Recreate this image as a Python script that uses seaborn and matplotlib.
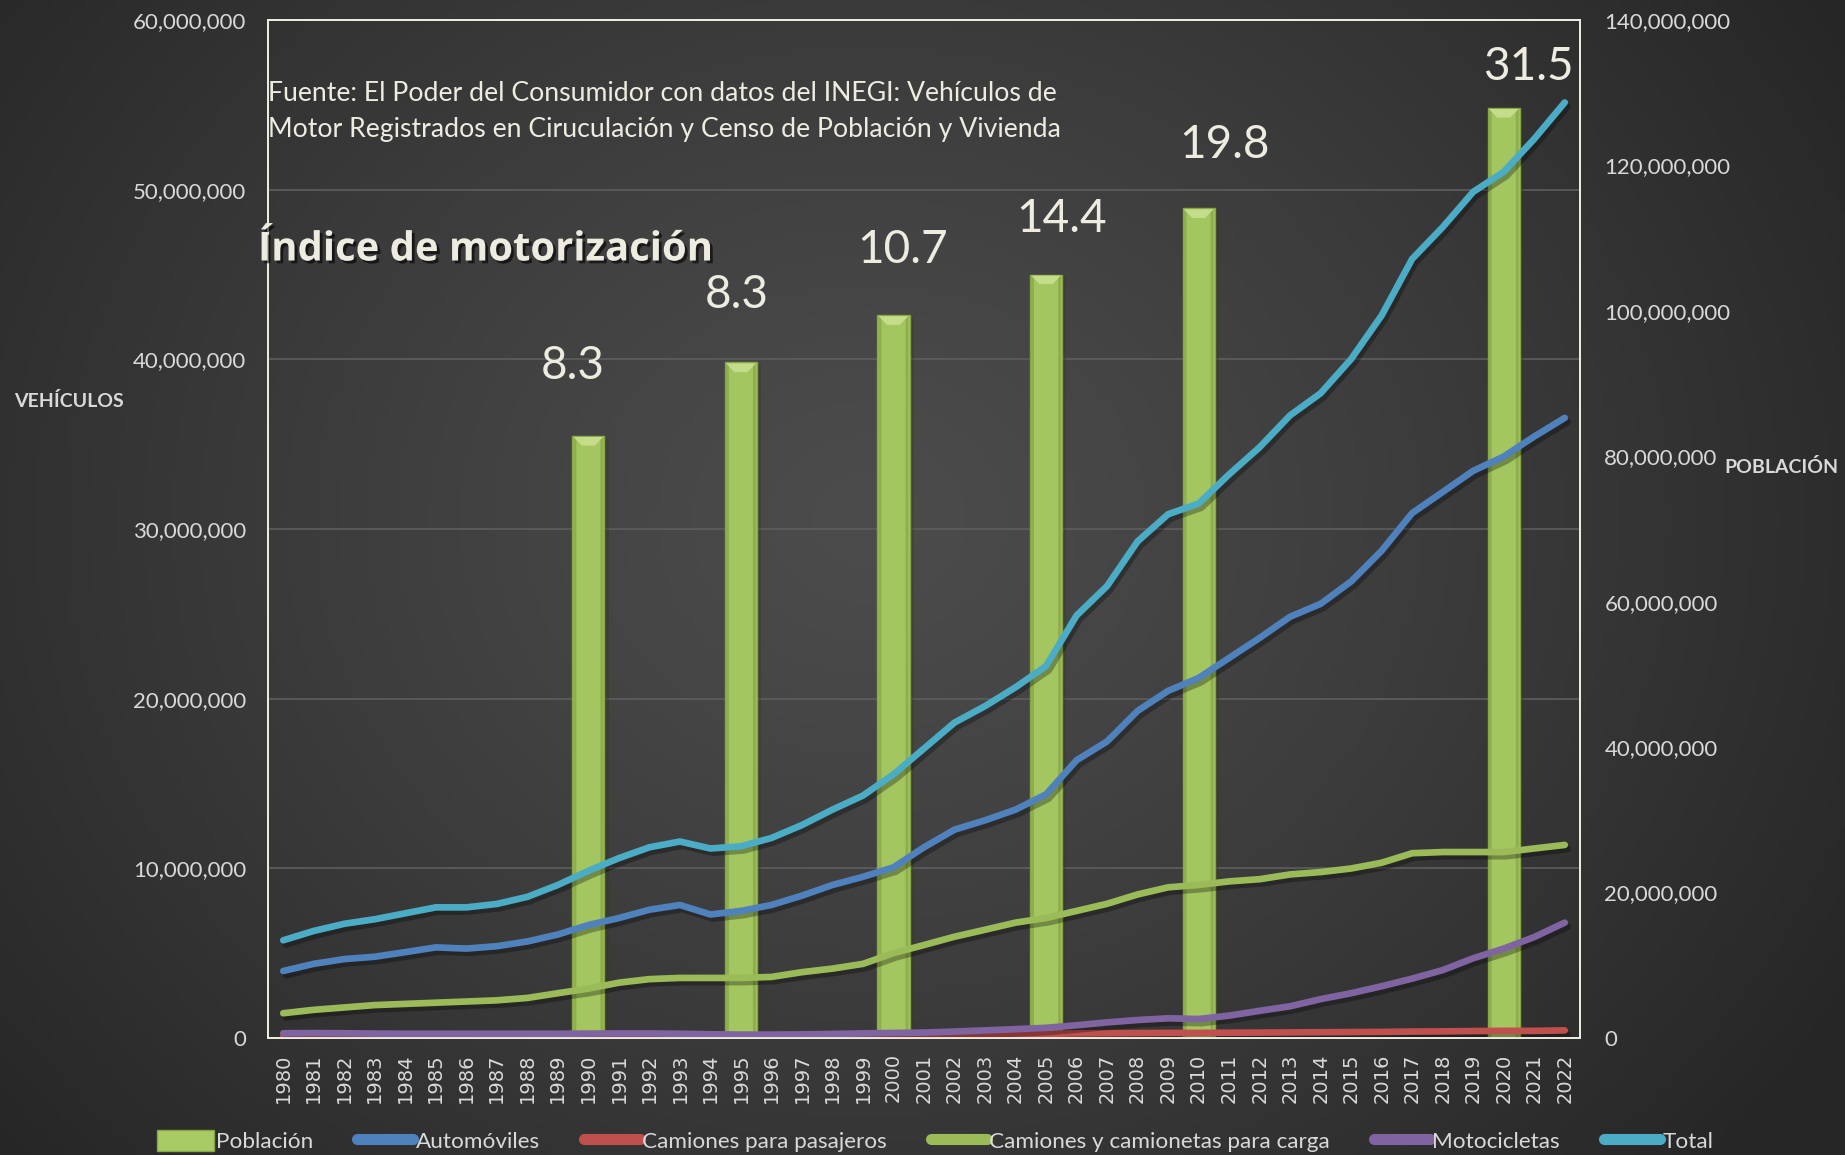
import numpy as np
import pandas as pd
import seaborn as sns
import matplotlib
matplotlib.use("Agg")
import matplotlib.pyplot as plt
import matplotlib.patheffects as pe
from matplotlib.lines import Line2D
from matplotlib.patches import Patch, Polygon
from matplotlib.ticker import FuncFormatter, MultipleLocator

# ---------------- data ----------------
years = [str(y) for y in range(1980, 2023)]

automoviles = [3.95e6, 4.37e6, 4.65e6, 4.79e6, 5.06e6, 5.34e6, 5.27e6, 5.41e6, 5.69e6, 6.10e6,
               6.66e6, 7.07e6, 7.56e6, 7.84e6, 7.28e6, 7.49e6, 7.84e6, 8.39e6, 9.02e6, 9.50e6,
               10.06e6, 11.24e6, 12.28e6, 12.83e6, 13.46e6, 14.36e6, 16.37e6, 17.48e6, 19.28e6, 20.46e6,
               21.22e6, 22.40e6, 23.58e6, 24.83e6, 25.59e6, 26.91e6, 28.72e6, 30.94e6, 32.18e6, 33.43e6,
               34.27e6, 35.45e6, 36.55e6]

camiones_pasajeros = [0.06e6, 0.06e6, 0.07e6, 0.07e6, 0.07e6, 0.08e6, 0.08e6, 0.08e6, 0.09e6, 0.09e6,
                      0.10e6, 0.10e6, 0.11e6, 0.11e6, 0.11e6, 0.11e6, 0.12e6, 0.12e6, 0.13e6, 0.14e6,
                      0.15e6, 0.17e6, 0.19e6, 0.21e6, 0.23e6, 0.25e6, 0.27e6, 0.28e6, 0.29e6, 0.30e6,
                      0.30e6, 0.31e6, 0.32e6, 0.33e6, 0.34e6, 0.35e6, 0.36e6, 0.38e6, 0.39e6, 0.41e6,
                      0.42e6, 0.42e6, 0.45e6]

camiones_carga = [1.46e6, 1.66e6, 1.80e6, 1.94e6, 2.01e6, 2.08e6, 2.15e6, 2.22e6, 2.36e6, 2.64e6,
                  2.91e6, 3.26e6, 3.47e6, 3.54e6, 3.54e6, 3.54e6, 3.60e6, 3.88e6, 4.09e6, 4.37e6,
                  5.00e6, 5.48e6, 5.97e6, 6.38e6, 6.80e6, 7.07e6, 7.49e6, 7.91e6, 8.46e6, 8.88e6,
                  9.02e6, 9.23e6, 9.36e6, 9.64e6, 9.78e6, 9.99e6, 10.33e6, 10.89e6, 10.96e6, 10.96e6,
                  10.96e6, 11.17e6, 11.38e6]

motocicletas = [0.28e6, 0.29e6, 0.28e6, 0.26e6, 0.25e6, 0.25e6, 0.25e6, 0.25e6, 0.25e6, 0.25e6,
                0.26e6, 0.27e6, 0.27e6, 0.25e6, 0.22e6, 0.20e6, 0.20e6, 0.21e6, 0.24e6, 0.27e6,
                0.30e6, 0.32e6, 0.38e6, 0.45e6, 0.52e6, 0.60e6, 0.75e6, 0.92e6, 1.06e6, 1.16e6,
                1.12e6, 1.32e6, 1.60e6, 1.87e6, 2.29e6, 2.64e6, 3.05e6, 3.50e6, 4.00e6, 4.70e6,
                5.27e6, 5.95e6, 6.80e6]

total = [5.76e6, 6.31e6, 6.73e6, 7.00e6, 7.35e6, 7.70e6, 7.70e6, 7.90e6, 8.32e6, 9.02e6,
         9.85e6, 10.60e6, 11.24e6, 11.58e6, 11.17e6, 11.30e6, 11.79e6, 12.55e6, 13.46e6, 14.29e6,
         15.54e6, 17.06e6, 18.59e6, 19.56e6, 20.67e6, 21.92e6, 24.90e6, 26.64e6, 29.27e6, 30.87e6,
         31.50e6, 33.22e6, 34.82e6, 36.70e6, 38.00e6, 40.02e6, 42.59e6, 45.92e6, 47.79e6, 49.87e6,
         51.05e6, 52.99e6, 55.14e6]

pop_years = ["1990", "1995", "2000", "2005", "2010", "2020"]
poblacion = [82.8e6, 92.9e6, 99.4e6, 105.0e6, 114.1e6, 127.9e6]
indice = ["8.3", "8.3", "10.7", "14.4", "19.8", "31.5"]

series_names = ["Automóviles", "Camiones para pasajeros", "Camiones y camionetas para carga",
                "Motocicletas", "Total"]
series_colors = ["#4F81BD", "#C0504D", "#9BBB59", "#8064A2", "#4BACC6"]

# label placement (pixel offsets relative to bar top)
label_dx = [-16, -4, 9, 15, 26, 25]
label_dy = [70, 67, 65, 55, 63, 41]

# ---------------- style ----------------
sns.set_theme(style="dark")
plt.rcParams["font.family"] = ["Lato", "DejaVu Sans"]
TXT = "#D9D9D9"
CREAM = "#EEECE1"
BAR = "#A4C660"

fig = plt.figure(figsize=(18.45, 11.55), dpi=100)
fig.patch.set_facecolor("#333333")

# background gradient
bg = fig.add_axes([0, 0, 1, 1], zorder=-10)
gx, gy = np.meshgrid(np.linspace(0, 1, 400), np.linspace(0, 1, 300))
d = np.sqrt(((gx - 0.47) / 0.62) ** 2 + ((gy - 0.45) / 0.85) ** 2)
v = 76 - 38 * np.clip(d, 0, 1) ** 1.2
img = np.dstack([v, v, v]) / 255.0
bg.imshow(img, extent=[0, 1, 0, 1], aspect="auto", origin="upper")
bg.axis("off")

pos = [268 / 1845, 1 - 1038 / 1155, (1580 - 268) / 1845, (1038 - 20) / 1155]

# grid axis (behind bars)
axg = fig.add_axes(pos, zorder=0)
axg.set_facecolor("none")
axg.set_ylim(0, 60e6)
axg.yaxis.set_major_locator(MultipleLocator(10e6))
axg.grid(axis="y", color="#5E5E5E", linewidth=1.2)
axg.grid(axis="x", visible=False)
axg.set_xticks([])
axg.tick_params(labelleft=False, left=False)
for s in axg.spines.values():
    s.set_visible(False)

ax = fig.add_axes(pos, zorder=2)
ax.set_facecolor("none")
ax2 = ax.twinx()
ax2.set_zorder(1)
ax2.set_facecolor("none")
ax.set_zorder(2)

# lines
df = pd.DataFrame({"Año": years, "Automóviles": automoviles,
                   "Camiones para pasajeros": camiones_pasajeros,
                   "Camiones y camionetas para carga": camiones_carga,
                   "Motocicletas": motocicletas, "Total": total})
long = df.melt(id_vars="Año", var_name="Serie", value_name="Vehículos")
sns.lineplot(data=long, x="Año", y="Vehículos", hue="Serie", hue_order=series_names,
             palette=dict(zip(series_names, series_colors)), linewidth=4.8,
             sort=False, legend=False, ax=ax, solid_capstyle="round")
for ln in ax.lines:
    ln.set_path_effects([pe.SimpleLineShadow(offset=(2, -3), alpha=0.3, shadow_color="black"),
                         pe.Normal()])

# bars
pop_df = pd.DataFrame({"Año": pop_years, "Población": poblacion})
sns.barplot(data=pop_df, x="Año", y="Población", order=years, color=BAR,
            saturation=1, width=1.05, ax=ax2, edgecolor="#86A645", linewidth=1.0)
for p in ax2.patches:
    p.set_path_effects([pe.SimplePatchShadow(offset=(3, -2), alpha=0.35), pe.Normal()])

# axes limits / ticks
ax.set_xlim(-0.5, len(years) - 0.5)
ax.set_ylim(0, 60e6)
ax2.set_ylim(0, 140e6)
ax.yaxis.set_major_locator(MultipleLocator(10e6))
ax2.yaxis.set_major_locator(MultipleLocator(20e6))
fmt = FuncFormatter(lambda v, p: f"{v:,.0f}")
ax.yaxis.set_major_formatter(fmt)
ax2.yaxis.set_major_formatter(fmt)
ax.grid(False)
ax2.grid(False)
for a in (ax, ax2):
    a.set_xlabel("")
    a.set_ylabel("")

# bevel on bar tops (derived from drawn patch geometry)
fig.canvas.draw()
for p in list(ax2.patches):
    x0, w, h = p.get_x(), p.get_width(), p.get_height()
    (px0, py0), (px1, py1) = ax2.transData.transform([(x0, 0), (x0 + w, h)])
    b = (px1 - px0) * 0.3
    top = Polygon([(px0 + 1, py1 - 1), (px1 - 1, py1 - 1), (px1 - b, py1 - b), (px0 + b, py1 - b)],
                  closed=True, transform=None, facecolor="#C9E08F", edgecolor="none",
                  zorder=3, alpha=0.9)
    ax2.add_artist(top)
    side_l = Polygon([(px0 + 1, py0), (px0 + 1, py1 - 1), (px0 + 4, py1 - 4), (px0 + 4, py0)],
                     closed=True, transform=None, facecolor="#8FAF4F", edgecolor="none", zorder=3)
    side_r = Polygon([(px1 - 1, py0), (px1 - 1, py1 - 1), (px1 - 4, py1 - 4), (px1 - 4, py0)],
                     closed=True, transform=None, facecolor="#8FAF4F", edgecolor="none", zorder=3)
    ax2.add_artist(side_l)
    ax2.add_artist(side_r)

# labels above bars
for i, (yr, val, lab) in enumerate(zip(pop_years, poblacion, indice)):
    ax2.annotate(lab, xy=(years.index(yr), val), xytext=(label_dx[i], label_dy[i]),
                 textcoords="offset pixels", ha="center", va="center",
                 fontsize=33, color=CREAM, family=["Lato", "DejaVu Sans"])

ax.set_xticks(range(len(years)))
ax.set_xticklabels(years, rotation=90, family="DejaVu Sans", fontsize=14, color=TXT)
ax.tick_params(axis="x", length=0, pad=11)
ax.tick_params(axis="y", length=0, pad=15.5, labelsize=16, labelcolor=TXT)
ax2.tick_params(axis="y", length=0, pad=17.5, labelsize=16, labelcolor=TXT)
ax2.tick_params(axis="x", length=0)

for a in (ax, ax2):
    for s in a.spines.values():
        s.set_visible(True)
        s.set_color(CREAM)
        s.set_linewidth(1.3)

# texts
fig.text(268 / 1845, 1 - 93.5 / 1155,
         "Fuente: El Poder del Consumidor con datos del INEGI: Vehículos de",
         fontsize=19.2, color=CREAM, va="center", ha="left")
fig.text(268 / 1845, 1 - 129.5 / 1155,
         "Motor Registrados en Ciruculación y Censo de Población y Vivienda",
         fontsize=19.2, color=CREAM, va="center", ha="left")
fig.text(258 / 1845, 1 - 250 / 1155, "Índice de motorización",
         fontsize=28.8, fontweight="bold", color=CREAM, va="center", ha="left",
         family=["Open Sans", "DejaVu Sans"],
         path_effects=[pe.withSimplePatchShadow(offset=(2, -2), shadow_rgbFace="black", alpha=0.6)])
fig.text(14 / 1845, 1 - 401 / 1155, "VEHÍCULOS", fontsize=14, fontweight="bold",
         color=TXT, va="center", ha="left")
fig.text(1724 / 1845, 1 - 467 / 1155, "POBLACIÓN", fontsize=14, fontweight="bold",
         color=TXT, va="center", ha="left")

# legend
handles = [Patch(facecolor="#A9CB65", edgecolor="#86A645", label="Población")]
for n, c in zip(series_names, series_colors):
    handles.append(Line2D([0], [0], color=c, linewidth=8, solid_capstyle="round", label=n))
fig.legend(handles=handles, loc="center", bbox_to_anchor=(0.507, 1 - 1141 / 1155), ncol=6,
           frameon=False, fontsize=16.2, labelcolor=TXT, handlelength=2.5,
           handletextpad=0.1, columnspacing=1.95, borderaxespad=0, handleheight=1.1)

fig.savefig("out.png", dpi=100, facecolor=fig.get_facecolor())
